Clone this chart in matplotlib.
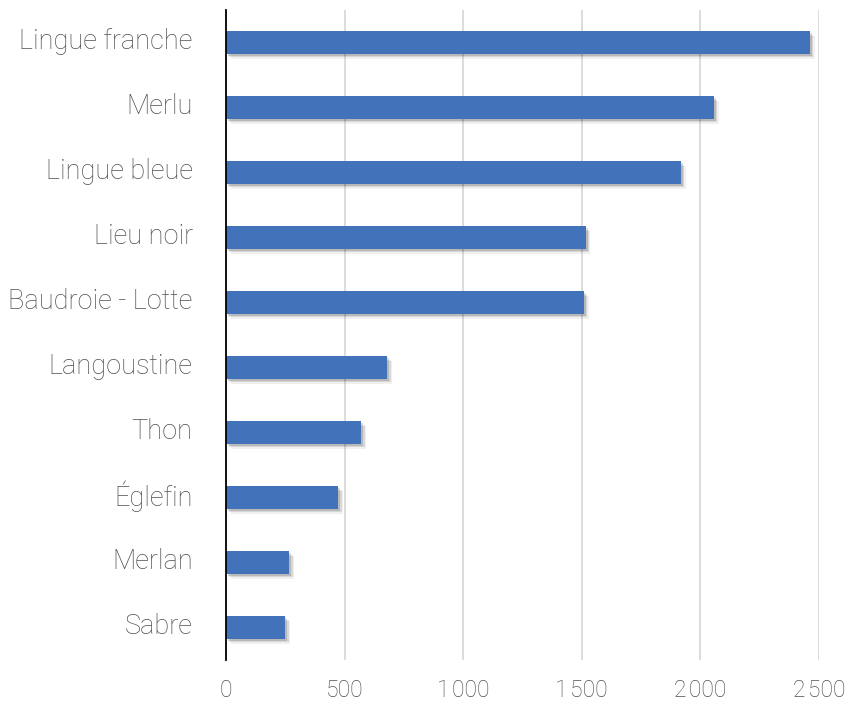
import matplotlib.pyplot as plt
import matplotlib.patheffects as pe
import matplotlib.transforms as mtransforms

species = ['Lingue franche', 'Merlu', 'Lingue bleue', 'Lieu noir', 'Baudroie - Lotte',
           'Langoustine', 'Thon', 'Églefin', 'Merlan', 'Sabre']
values = [2462, 2057, 1917, 1516, 1508, 680, 570, 473, 267, 250]
xticks = [0, 500, 1000, 1500, 2000, 2500]
xtick_labels = ['0', '500', '1\u200a000', '1\u200a500', '2\u200a000', '2\u200a500']

plt.rcParams['font.family'] = ['Roboto', 'DejaVu Sans']

fig = plt.figure(figsize=(8.48, 7.04), dpi=100)
ax = fig.add_axes([226 / 848, 44 / 704, (819 - 226) / 848, 650 / 704])

# soft shadow made of a few offset layers
shadow = [
    pe.SimplePatchShadow(offset=(3.5, -3.5), shadow_rgbFace='#000000', alpha=0.06),
    pe.SimplePatchShadow(offset=(2.5, -2.5), shadow_rgbFace='#000000', alpha=0.10),
    pe.SimplePatchShadow(offset=(1.5, -1.5), shadow_rgbFace='#000000', alpha=0.14),
    pe.Normal(),
]

y = list(range(len(species)))
ax.barh(y, values, height=0.35, color='#4273BA', zorder=3, path_effects=shadow)

ax.set_ylim(len(species) - 0.5, -0.5)
ax.set_xlim(0, 2500)
ax.set_yticks(y)
ax.set_yticklabels(species)
ax.set_xticks(xticks)
ax.set_xticklabels(xtick_labels)

ax.grid(axis='x', color='#D9D9D9', linewidth=1.3, zorder=0)
ax.set_axisbelow(True)
for s in ['top', 'right', 'bottom']:
    ax.spines[s].set_visible(False)
ax.spines['left'].set_color('black')
ax.spines['left'].set_linewidth(1.3)
ax.spines['left'].set_zorder(5)

ax.tick_params(axis='y', length=0, pad=24, labelsize=19.5, labelcolor='#505050')
ax.tick_params(axis='x', length=0, pad=14, labelsize=16.5, labelcolor='#505050')
for t in ax.get_xticklabels() + ax.get_yticklabels():
    t.set_fontweight('light')

# nudge category labels up slightly
up = mtransforms.ScaledTranslation(0, 3 / 72, fig.dpi_scale_trans)
for t in ax.get_yticklabels():
    t.set_transform(t.get_transform() + up)

fig.savefig('out.png', dpi=100)
